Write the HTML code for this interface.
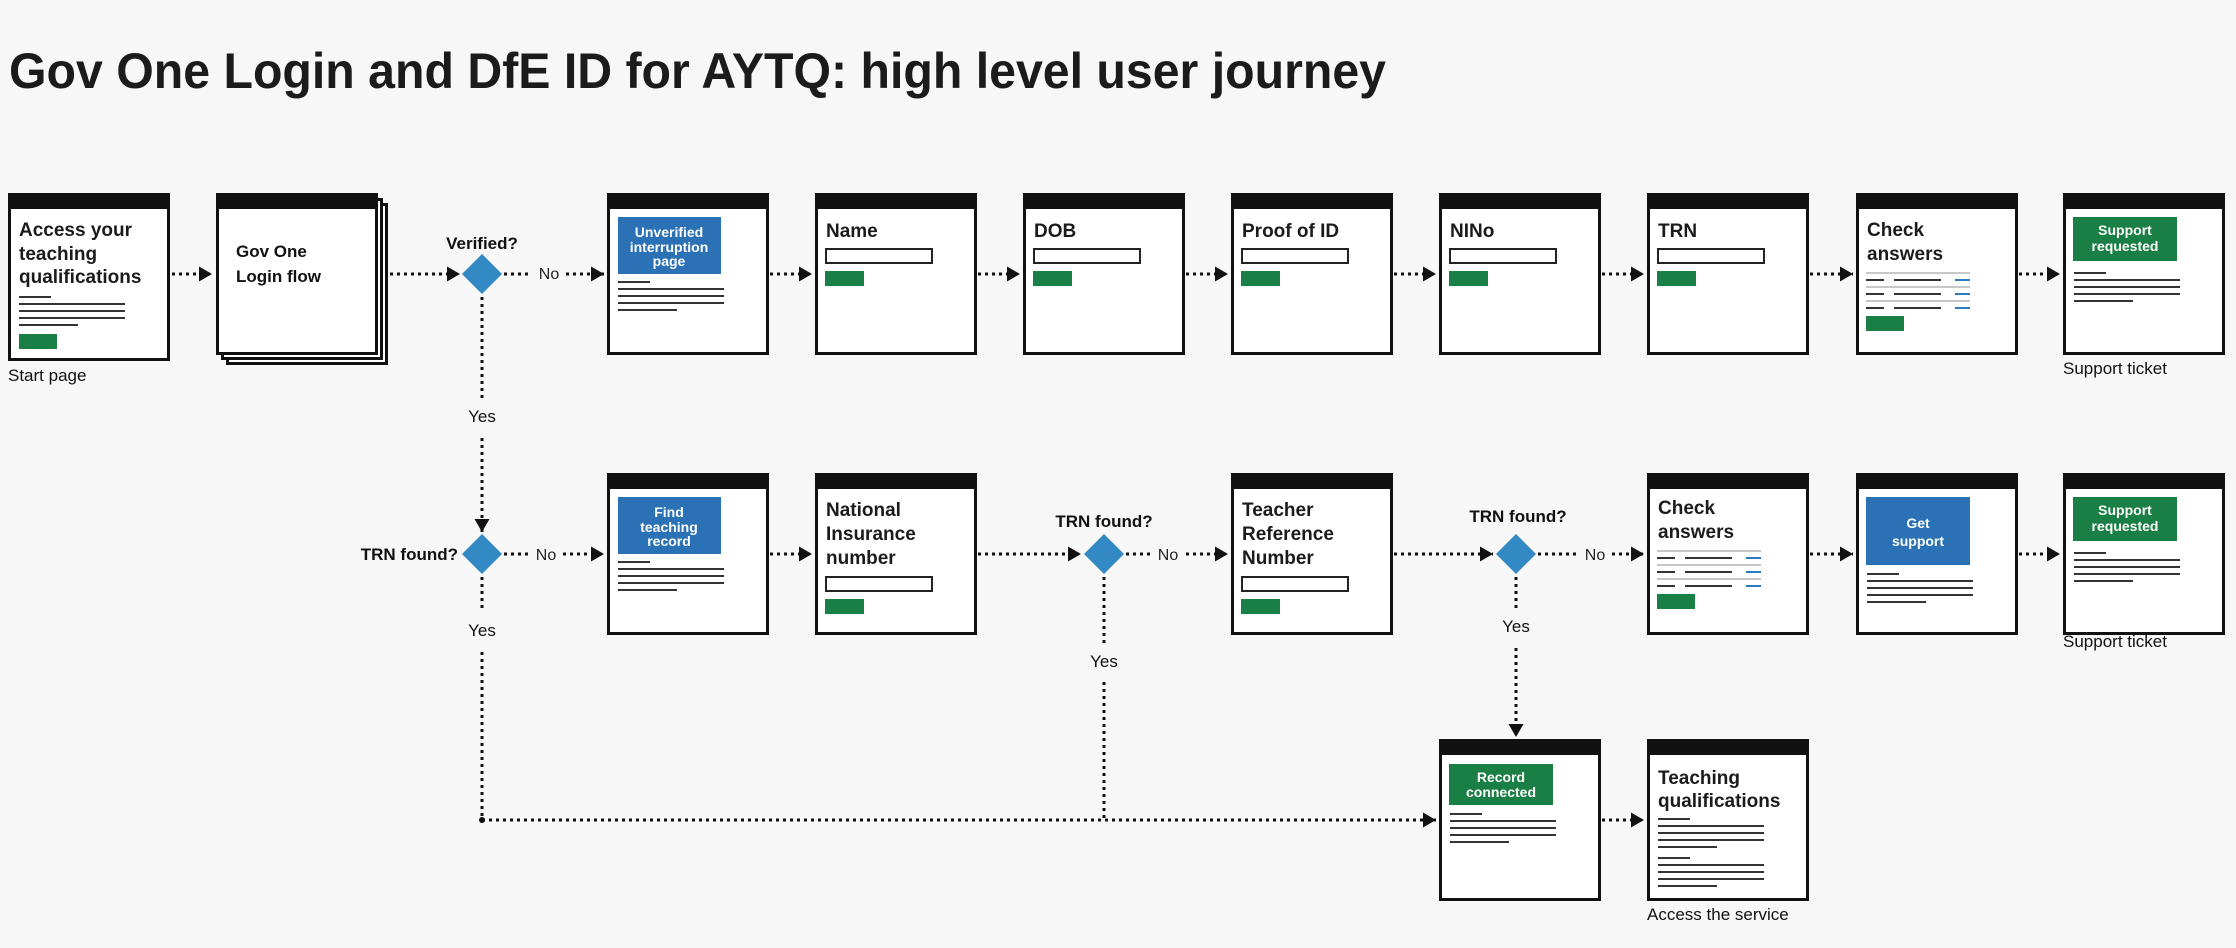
<!DOCTYPE html>
<html><head><meta charset="utf-8"><style>
html,body{margin:0;padding:0;background:#f7f7f7;}
svg{display:block;}
.h{font-family:"Liberation Sans",sans-serif;font-weight:bold;fill:#1b1b1b;}
.t{font-family:"Liberation Sans",sans-serif;font-weight:bold;font-size:19px;fill:#1b1b1b;}
.w{font-family:"Liberation Sans",sans-serif;font-weight:bold;font-size:14px;fill:#fff;}
.l{font-family:"Liberation Sans",sans-serif;font-size:17px;fill:#111;}
.q{font-family:"Liberation Sans",sans-serif;font-weight:bold;font-size:17px;fill:#111;}
.n{font-family:"Liberation Sans",sans-serif;font-size:16px;fill:#222;}
.d{stroke:#111;stroke-width:3;stroke-dasharray:3 4;fill:none;}
.ln{stroke:#333;stroke-width:2;}
.gl{stroke:#c8c8c8;stroke-width:2;}
.bl{stroke:#2e7cc0;stroke-width:2;}
</style></head><body>
<svg width="2236" height="948" viewBox="0 0 2236 948" xmlns="http://www.w3.org/2000/svg">
<defs>
<marker id="a" markerUnits="userSpaceOnUse" markerWidth="14" markerHeight="16" refX="13" refY="7.5" orient="auto">
<path d="M0,0 L13,7.5 L0,15 z" fill="#111"/></marker>
<g id="box"><rect x="1.5" y="1.5" width="159" height="159" fill="#fff" stroke="#111" stroke-width="3"/><rect x="0" y="0" width="162" height="16" fill="#111"/></g>
<g id="body5"><line class="ln" x1="11" y1="0" x2="43" y2="0"/><line class="ln" x1="11" y1="7" x2="117" y2="7"/><line class="ln" x1="11" y1="14" x2="117" y2="14"/><line class="ln" x1="11" y1="21" x2="117" y2="21"/><line class="ln" x1="11" y1="28" x2="70" y2="28"/></g>
<g id="form"><rect x="11" y="0" width="106" height="14" fill="#fff" stroke="#222" stroke-width="2"/><rect x="10" y="22" width="39" height="15" fill="#1a7f44"/></g>
<g id="check">
<line class="gl" x1="10" y1="0" x2="114" y2="0"/>
<line class="ln" x1="10" y1="7" x2="28" y2="7"/><line class="ln" x1="38" y1="7" x2="85" y2="7"/><line class="bl" x1="99" y1="7" x2="114" y2="7"/>
<line class="gl" x1="10" y1="14" x2="114" y2="14"/>
<line class="ln" x1="10" y1="21" x2="28" y2="21"/><line class="ln" x1="38" y1="21" x2="85" y2="21"/><line class="bl" x1="99" y1="21" x2="114" y2="21"/>
<line class="gl" x1="10" y1="28" x2="114" y2="28"/>
<line class="ln" x1="10" y1="35" x2="28" y2="35"/><line class="ln" x1="38" y1="35" x2="85" y2="35"/><line class="bl" x1="99" y1="35" x2="114" y2="35"/>
<rect x="10" y="43" width="38" height="15" fill="#1a7f44"/>
</g>
</defs>

<text class="h" x="9" y="88" font-size="50" textLength="1377" lengthAdjust="spacingAndGlyphs">Gov One Login and DfE ID for AYTQ: high level user journey</text>

<!-- Row 1 -->
<g transform="translate(8,193)"><rect x="1.5" y="1.5" width="159" height="165" fill="#fff" stroke="#111" stroke-width="3"/><rect x="0" y="0" width="162" height="16" fill="#111"/>
<text class="t" x="11" y="43">Access your</text><text class="t" x="11" y="67">teaching</text><text class="t" x="11" y="90">qualifications</text>
<use href="#body5" y="104"/><rect x="11" y="141" width="38" height="15" fill="#1a7f44"/></g>
<text class="l" x="8" y="381">Start page</text>

<g transform="translate(216,193)">
<rect x="11.5" y="11.5" width="159" height="159" fill="#fff" stroke="#111" stroke-width="3"/>
<rect x="6.5" y="6.5" width="159" height="159" fill="#fff" stroke="#111" stroke-width="3"/>
<use href="#box"/>
<text class="q" x="20" y="64" font-size="21">Gov One</text><text class="q" x="20" y="89" font-size="21">Login flow</text></g>

<g transform="translate(607,193)"><use href="#box"/><rect x="11" y="24" width="103" height="57" fill="#2a71b6"/>
<text class="w" x="62" y="44" text-anchor="middle">Unverified</text><text class="w" x="62" y="59" text-anchor="middle">interruption</text><text class="w" x="62" y="73" text-anchor="middle">page</text>
<use href="#body5" y="89"/></g>

<g transform="translate(815,193)"><use href="#box"/><text class="t" x="11" y="44">Name</text><use href="#form" y="56"/></g>
<g transform="translate(1023,193)"><use href="#box"/><text class="t" x="11" y="44">DOB</text><use href="#form" y="56"/></g>
<g transform="translate(1231,193)"><use href="#box"/><text class="t" x="11" y="44">Proof of ID</text><use href="#form" y="56"/></g>
<g transform="translate(1439,193)"><use href="#box"/><text class="t" x="11" y="44">NINo</text><use href="#form" y="56"/></g>
<g transform="translate(1647,193)"><use href="#box"/><text class="t" x="11" y="44">TRN</text><use href="#form" y="56"/></g>
<g transform="translate(1856,193)"><use href="#box"/><text class="t" x="11" y="43">Check</text><text class="t" x="11" y="67">answers</text><use href="#check" y="80"/></g>
<g transform="translate(2063,193)"><use href="#box"/><rect x="10" y="24" width="104" height="44" fill="#1a7f44"/>
<text class="w" x="62" y="42" text-anchor="middle">Support</text><text class="w" x="62" y="58" text-anchor="middle">requested</text><use href="#body5" y="80"/></g>
<text class="l" x="2063" y="374">Support ticket</text>

<!-- Row 1 connectors -->
<line class="d" x1="172" y1="274" x2="212" y2="274" marker-end="url(#a)"/>
<line class="d" x1="390" y1="274" x2="460" y2="274" marker-end="url(#a)"/>
<polygon points="482,254 502,274 482,294 462,274" fill="#3389c4"/>
<text class="q" x="482" y="249" text-anchor="middle">Verified?</text>
<line class="d" x1="504" y1="274" x2="532" y2="274"/>
<text class="n" x="549" y="279" text-anchor="middle">No</text>
<line class="d" x1="566" y1="274" x2="604" y2="274" marker-end="url(#a)"/>
<line class="d" x1="770" y1="274" x2="812" y2="274" marker-end="url(#a)"/>
<line class="d" x1="978" y1="274" x2="1020" y2="274" marker-end="url(#a)"/>
<line class="d" x1="1186" y1="274" x2="1228" y2="274" marker-end="url(#a)"/>
<line class="d" x1="1394" y1="274" x2="1436" y2="274" marker-end="url(#a)"/>
<line class="d" x1="1602" y1="274" x2="1644" y2="274" marker-end="url(#a)"/>
<line class="d" x1="1810" y1="274" x2="1853" y2="274" marker-end="url(#a)"/>
<line class="d" x1="2019" y1="274" x2="2060" y2="274" marker-end="url(#a)"/>

<line class="d" x1="482" y1="297" x2="482" y2="398"/>
<text class="l" x="482" y="422" text-anchor="middle">Yes</text>
<line class="d" x1="482" y1="438" x2="482" y2="532" marker-end="url(#a)"/>

<!-- Row 2 -->
<polygon points="482,534 502,554 482,574 462,554" fill="#3389c4"/>
<text class="q" x="458" y="560" text-anchor="end">TRN found?</text>
<line class="d" x1="504" y1="554" x2="532" y2="554"/>
<text class="n" x="546" y="560" text-anchor="middle">No</text>
<line class="d" x1="563" y1="554" x2="604" y2="554" marker-end="url(#a)"/>

<g transform="translate(607,473)"><use href="#box"/><rect x="11" y="24" width="103" height="57" fill="#2a71b6"/>
<text class="w" x="62" y="44" text-anchor="middle">Find</text><text class="w" x="62" y="59" text-anchor="middle">teaching</text><text class="w" x="62" y="73" text-anchor="middle">record</text>
<use href="#body5" y="89"/></g>
<line class="d" x1="770" y1="554" x2="812" y2="554" marker-end="url(#a)"/>

<g transform="translate(815,473)"><use href="#box"/><text class="t" x="11" y="43">National</text><text class="t" x="11" y="67">Insurance</text><text class="t" x="11" y="91">number</text><use href="#form" y="104"/></g>
<line class="d" x1="978" y1="554" x2="1081" y2="554" marker-end="url(#a)"/>
<polygon points="1104,534 1124,554 1104,574 1084,554" fill="#3389c4"/>
<text class="q" x="1104" y="527" text-anchor="middle">TRN found?</text>
<line class="d" x1="1126" y1="554" x2="1152" y2="554"/>
<text class="n" x="1168" y="560" text-anchor="middle">No</text>
<line class="d" x1="1186" y1="554" x2="1228" y2="554" marker-end="url(#a)"/>

<g transform="translate(1231,473)"><use href="#box"/><text class="t" x="11" y="43">Teacher</text><text class="t" x="11" y="67">Reference</text><text class="t" x="11" y="91">Number</text><use href="#form" y="104"/></g>
<line class="d" x1="1394" y1="554" x2="1493" y2="554" marker-end="url(#a)"/>
<polygon points="1516,534 1536,554 1516,574 1496,554" fill="#3389c4"/>
<text class="q" x="1518" y="522" text-anchor="middle">TRN found?</text>
<line class="d" x1="1538" y1="554" x2="1578" y2="554"/>
<text class="n" x="1595" y="560" text-anchor="middle">No</text>
<line class="d" x1="1612" y1="554" x2="1644" y2="554" marker-end="url(#a)"/>

<g transform="translate(1647,473)"><use href="#box"/><text class="t" x="11" y="41">Check</text><text class="t" x="11" y="65">answers</text><use href="#check" y="78"/></g>
<line class="d" x1="1810" y1="554" x2="1853" y2="554" marker-end="url(#a)"/>
<g transform="translate(1856,473)"><use href="#box"/><rect x="10" y="24" width="104" height="68" fill="#2a71b6"/>
<text class="w" x="62" y="55" text-anchor="middle" font-size="15">Get</text><text class="w" x="62" y="73" text-anchor="middle" font-size="15">support</text>
<use href="#body5" y="101"/></g>
<line class="d" x1="2019" y1="554" x2="2060" y2="554" marker-end="url(#a)"/>
<g transform="translate(2063,473)"><use href="#box"/><rect x="10" y="24" width="104" height="44" fill="#1a7f44"/>
<text class="w" x="62" y="42" text-anchor="middle">Support</text><text class="w" x="62" y="58" text-anchor="middle">requested</text><use href="#body5" y="80"/></g>
<text class="l" x="2063" y="647">Support ticket</text>

<!-- Yes branches -->
<line class="d" x1="482" y1="577" x2="482" y2="612"/>
<text class="l" x="482" y="636" text-anchor="middle">Yes</text>
<line class="d" x1="482" y1="652" x2="482" y2="820"/>
<circle cx="482" cy="820" r="3" fill="#111"/>
<line class="d" x1="482" y1="820" x2="1436" y2="820" marker-end="url(#a)"/>
<line class="d" x1="1104" y1="577" x2="1104" y2="645"/>
<text class="l" x="1104" y="667" text-anchor="middle">Yes</text>
<line class="d" x1="1104" y1="682" x2="1104" y2="820"/>
<line class="d" x1="1516" y1="577" x2="1516" y2="612"/>
<text class="l" x="1516" y="632" text-anchor="middle">Yes</text>
<line class="d" x1="1516" y1="648" x2="1516" y2="737" marker-end="url(#a)"/>

<!-- Row 3 -->
<g transform="translate(1439,739)"><use href="#box"/><rect x="10" y="25" width="104" height="41" fill="#1a7f44"/>
<text class="w" x="62" y="43" text-anchor="middle">Record</text><text class="w" x="62" y="58" text-anchor="middle">connected</text><use href="#body5" y="75"/></g>
<line class="d" x1="1602" y1="820" x2="1644" y2="820" marker-end="url(#a)"/>
<g transform="translate(1647,739)"><use href="#box"/><text class="t" x="11" y="45">Teaching</text><text class="t" x="11" y="68">qualifications</text>
<use href="#body5" y="80"/><use href="#body5" y="119"/></g>
<text class="l" x="1647" y="920">Access the service</text>
</svg>
</body></html>
